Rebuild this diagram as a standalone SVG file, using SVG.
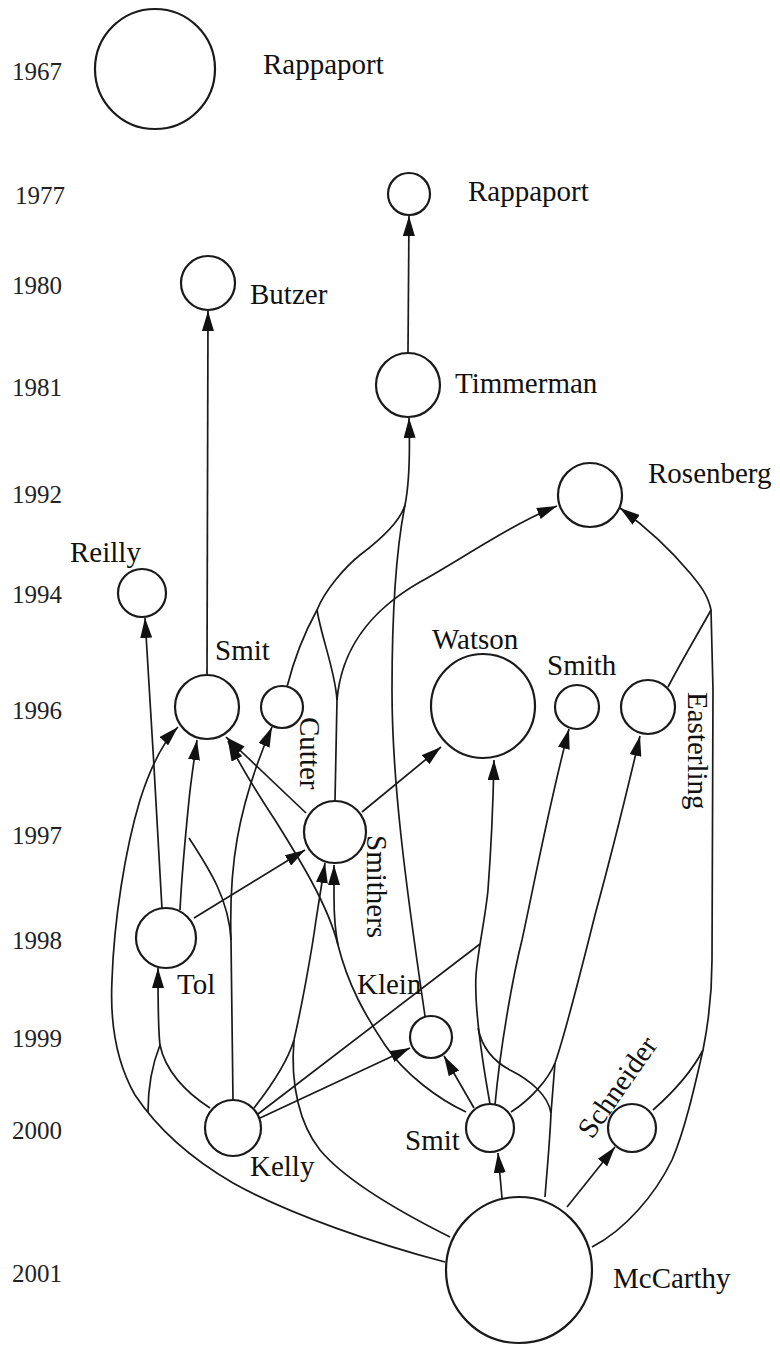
<svg xmlns="http://www.w3.org/2000/svg" width="780" height="1346" viewBox="0 0 780 1346">
<style>
  .bg { fill: #ffffff; }
  .node { fill: #ffffff; stroke: #1a1a1a; stroke-width: 2.2; }
  .edge { fill: none; stroke: #1a1a1a; stroke-width: 1.7; }
  .arrow { marker-end: url(#arr); }
  .lbl { font-family: "Liberation Serif", "Times New Roman", serif; font-size: 29px; fill: #111; }
  .year { font-family: "Liberation Serif", "Times New Roman", serif; font-size: 25px; fill: #222; }
</style>
<defs>
  <marker id="arr" viewBox="0 0 20 12" refX="20" refY="6" markerWidth="20" markerHeight="12" markerUnits="userSpaceOnUse" orient="auto">
    <path d="M0,0 L20,6 L0,12 z" fill="#111"/>
  </marker>
</defs>
<rect class="bg" x="0" y="0" width="780" height="1346"/>

<g id="years">
  <text class="year" x="12" y="80">1967</text>
  <text class="year" x="15" y="204">1977</text>
  <text class="year" x="12" y="294">1980</text>
  <text class="year" x="12" y="396">1981</text>
  <text class="year" x="12" y="503">1992</text>
  <text class="year" x="12" y="603">1994</text>
  <text class="year" x="12" y="719">1996</text>
  <text class="year" x="12" y="844">1997</text>
  <text class="year" x="12" y="949">1998</text>
  <text class="year" x="12" y="1047">1999</text>
  <text class="year" x="12" y="1139">2000</text>
  <text class="year" x="12" y="1282">2001</text>
</g>

<g id="connectors">
  <!-- Smit1996 -> Butzer -->
  <path class="edge arrow" d="M207,675 L208,311"/>
  <!-- Timmerman -> Rappaport1977 -->
  <path class="edge arrow" d="M408,353 L409,216"/>
  <!-- Klein -> Timmerman -->
  <path class="edge arrow" d="M425,1016 C 405,880 392,780 392,690 C 392,600 398,540 405,505 C 410,480 410,450 409,418"/>
  <!-- Cutter -> Timmerman (merges) -->
  <path class="edge" d="M287,687 C 295,655 306,630 317,610 C 325,590 345,567 360,555 C 380,540 400,522 405,505"/>
  <!-- Smithers -> Timmerman (branch) -->
  <path class="edge" d="M335,801 L337,700 C 335,670 322,640 317,610"/>
  <!-- Smithers -> Rosenberg -->
  <path class="edge arrow" d="M337,700 C 342,640 380,605 420,582 C 460,560 510,525 557,506"/>
  <!-- Tol -> Reilly -->
  <path class="edge arrow" d="M162,909 C 158,830 150,700 145,618"/>
  <!-- Tol -> Smit1996 -->
  <path class="edge arrow" d="M180,910 C 182,870 186,830 189,800 C 191,780 194,760 197,740"/>
  <!-- Kelly -> Smit1996 (branch) -->
  <path class="edge" d="M231,940 C 229,900 210,870 189,838"/>
  <!-- Kelly -> Cutter -->
  <path class="edge arrow" d="M233,1100 L231,940 C 229,870 236,810 272,727"/>
  <!-- McCarthy -> Smit1996 (outer) -->
  <path class="edge arrow" d="M445,1262 C 380,1245 290,1215 233,1183 C 185,1155 155,1125 135,1095 C 115,1060 110,1020 112,980 C 114,920 125,850 140,800 C 148,775 160,745 178,727"/>
  <!-- Kelly -> Tol -->
  <path class="edge arrow" d="M210,1108 C 185,1092 165,1070 160,1045 C 158,1030 158,1000 158,968"/>
  <!-- McCarthy -> Tol (branch) -->
  <path class="edge" d="M148,1112 C 148,1090 152,1065 160,1045"/>
  <!-- Tol -> Smithers -->
  <path class="edge arrow" d="M194,918 L305,850"/>
  <!-- Smithers -> Smit1996 -->
  <path class="edge arrow" d="M306,813 L226,737"/>
  <!-- Smit2000 -> Smit1996 -->
  <path class="edge arrow" d="M466,1112 C 440,1100 405,1075 385,1045 C 365,1015 348,985 338,945 C 328,905 300,860 275,820 C 262,800 245,775 228,741"/>
  <!-- Smit2000 -> Smithers (branch) -->
  <path class="edge arrow" d="M338,945 C 335,930 334,915 334,897 L334,865"/>
  <!-- Kelly -> Smithers -->
  <path class="edge arrow" d="M254,1108 C 272,1085 288,1060 294,1040 C 302,1005 312,950 316,920 L325,863"/>
  <!-- McCarthy -> Smithers (branch) -->
  <path class="edge" d="M450,1237 C 400,1212 345,1180 320,1150 C 300,1125 290,1085 294,1040"/>
  <!-- Smithers -> Watson -->
  <path class="edge arrow" d="M362,812 L441,747"/>
  <!-- Smit2000 -> Watson -->
  <path class="edge arrow" d="M490,1104 C 483,1065 474,1010 476,975 C 478,950 485,920 488,890 C 491,850 493,810 494,760"/>
  <!-- Kelly -> Watson (branch) -->
  <path class="edge" d="M258,1114 L480,944"/>
  <!-- McCarthy -> Watson (branch) -->
  <path class="edge" d="M545,1197 C 547,1170 550,1140 551,1113 C 548,1095 530,1080 510,1070 C 495,1062 482,1048 478,1028"/>
  <!-- McCarthy -> Easterling (branch) -->
  <path class="edge" d="M551,1113 L555,1063"/>
  <!-- Smit2000 -> Smith -->
  <path class="edge arrow" d="M495,1105 C 500,1050 512,980 522,940 C 535,880 550,800 569,729"/>
  <!-- Smit2000 -> Easterling -->
  <path class="edge arrow" d="M511,1112 C 530,1100 548,1080 555,1063 C 565,1035 580,975 595,915 C 610,860 625,800 640,736"/>
  <!-- McCarthy -> Smit2000 -->
  <path class="edge arrow" d="M502,1198 L498,1153"/>
  <!-- Smit2000 -> Klein -->
  <path class="edge arrow" d="M474,1108 L444,1056"/>
  <!-- Kelly -> Klein -->
  <path class="edge arrow" d="M260,1118 L410,1048"/>
  <!-- McCarthy -> Schneider -->
  <path class="edge arrow" d="M567,1207 L615,1147"/>
  <!-- McCarthy -> Rosenberg -->
  <path class="edge arrow" d="M592,1247 C 625,1230 655,1195 672,1160 C 685,1130 695,1085 703,1050 C 708,1025 712,995 712,960 L713,690 L711,610 C 708,595 700,585 690,573 C 675,555 650,530 620,508"/>
  <!-- Schneider -> Rosenberg (branch) -->
  <path class="edge" d="M653,1110 C 670,1095 690,1075 703,1050"/>
  <!-- Easterling -> Rosenberg (branch) -->
  <path class="edge" d="M668,687 C 682,660 700,630 711,610"/>
</g>

<g id="node-rappaport-1967">
  <circle class="node" cx="155" cy="69" r="60"/>
  <text class="lbl" x="263" y="74">Rappaport</text>
</g>
<g id="node-rappaport-1977">
  <circle class="node" cx="409" cy="194" r="21"/>
  <text class="lbl" x="468" y="201">Rappaport</text>
</g>
<g id="node-butzer">
  <circle class="node" cx="208" cy="283" r="27"/>
  <text class="lbl" x="250" y="304">Butzer</text>
</g>
<g id="node-timmerman">
  <circle class="node" cx="408" cy="385" r="32"/>
  <text class="lbl" x="455" y="393">Timmerman</text>
</g>
<g id="node-rosenberg">
  <circle class="node" cx="590" cy="495" r="32"/>
  <text class="lbl" x="648" y="483">Rosenberg</text>
</g>
<g id="node-reilly">
  <circle class="node" cx="142" cy="593" r="24"/>
  <text class="lbl" x="70" y="562">Reilly</text>
</g>
<g id="node-smit-1996">
  <circle class="node" cx="207" cy="707" r="32"/>
  <text class="lbl" x="215" y="660">Smit</text>
</g>
<g id="node-cutter">
  <circle class="node" cx="282" cy="707" r="21"/>
  <text class="lbl" transform="translate(300,717) rotate(90)">Cutter</text>
</g>
<g id="node-watson">
  <circle class="node" cx="483" cy="706" r="52"/>
  <text class="lbl" x="432" y="649">Watson</text>
</g>
<g id="node-smith">
  <circle class="node" cx="577" cy="707" r="22"/>
  <text class="lbl" x="547" y="675">Smith</text>
</g>
<g id="node-easterling">
  <circle class="node" cx="648" cy="707" r="27"/>
  <text class="lbl" transform="translate(688,692) rotate(90)">Easterling</text>
</g>
<g id="node-smithers">
  <circle class="node" cx="335" cy="832" r="31"/>
  <text class="lbl" transform="translate(367,835) rotate(90)">Smithers</text>
</g>
<g id="node-tol">
  <circle class="node" cx="166" cy="938" r="30"/>
  <text class="lbl" x="177" y="994">Tol</text>
</g>
<g id="node-klein">
  <circle class="node" cx="431" cy="1037" r="21"/>
  <text class="lbl" x="357" y="994">Klein</text>
</g>
<g id="node-kelly">
  <circle class="node" cx="233" cy="1128" r="28"/>
  <text class="lbl" x="250" y="1176">Kelly</text>
</g>
<g id="node-smit-2000">
  <circle class="node" cx="490" cy="1128" r="24"/>
  <text class="lbl" x="405" y="1150">Smit</text>
</g>
<g id="node-schneider">
  <circle class="node" cx="632" cy="1128" r="24"/>
  <text class="lbl" transform="translate(592,1140) rotate(-55)">Schneider</text>
</g>
<g id="node-mccarthy">
  <circle class="node" cx="519" cy="1270" r="73"/>
  <text class="lbl" x="613" y="1288">McCarthy</text>
</g>
</svg>
